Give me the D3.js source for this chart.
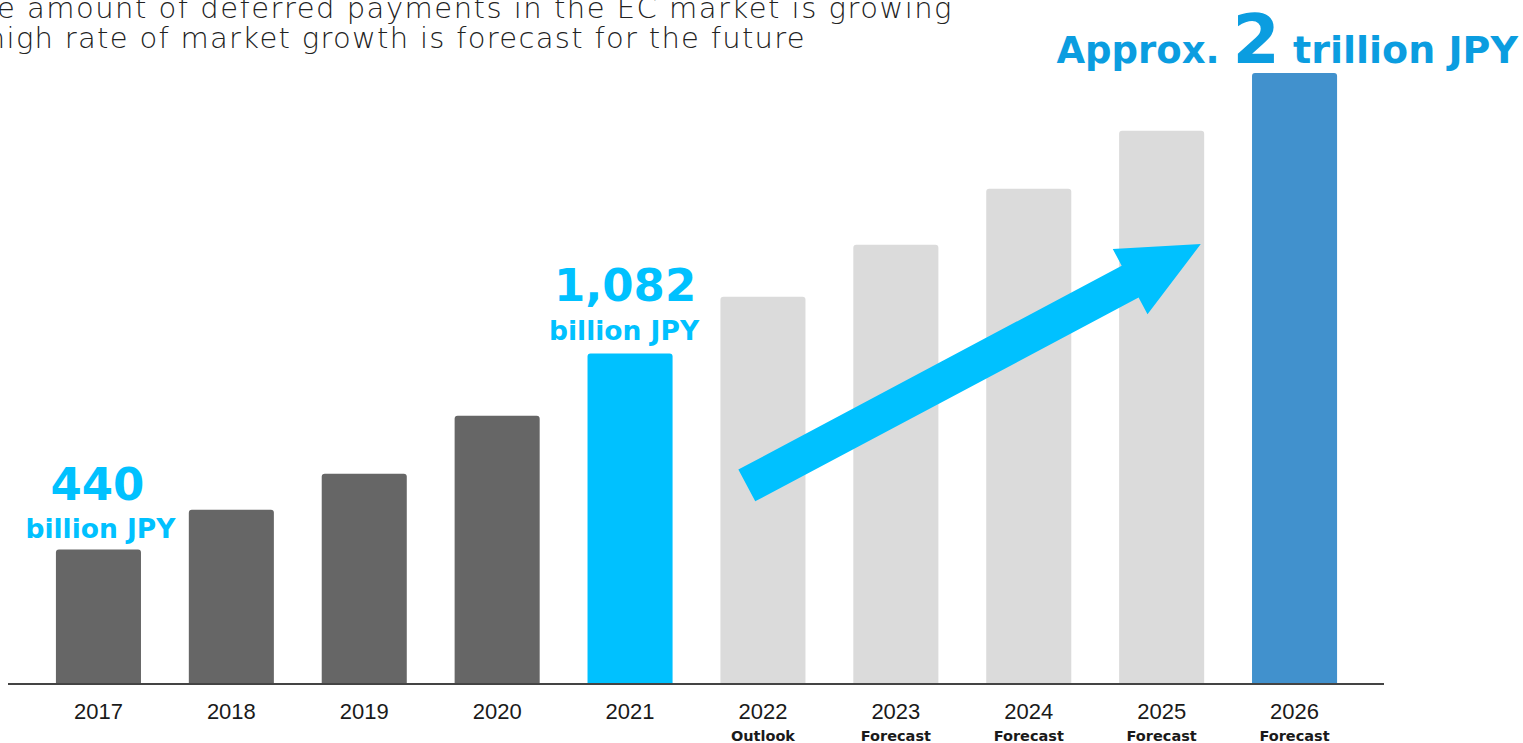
<!DOCTYPE html>
<html>
<head>
<meta charset="utf-8">
<script src="https://cdn.jsdelivr.net/npm/d3@7"></script>
<style>
  html, body { margin: 0; padding: 0; background: #ffffff; overflow: hidden; }
  svg { display: block; }
</style>
</head>
<body>
<svg id="chart" width="1523" height="743"></svg>
<script>
// Deferred payment volume in the EC market (billion JPY)
const years = ["2017", "2018", "2019", "2020", "2021", "2022", "2023", "2024", "2025", "2026"];
const values = [440, 570, 688, 878, 1082, 1268, 1438, 1621, 1811, 2000];
const subLabels = ["", "", "", "", "", "Outlook", "Forecast", "Forecast", "Forecast", "Forecast"];
const barColors = ["#666666", "#666666", "#666666", "#666666", "#00c1ff",
                   "#dbdbdb", "#dbdbdb", "#dbdbdb", "#dbdbdb", "#4191cd"];
const titleLines = [
  "The amount of deferred payments in the EC market is growing",
  "A high rate of market growth is forecast for the future"
];

const svg = d3.select("#chart");
const baseY = 684;

const x = d3.scaleBand()
  .domain(years)
  .range([32, 1361])
  .paddingInner(0.36)
  .paddingOuter(0.18);

const y = d3.scaleLinear()
  .domain([0, 2000])
  .range([baseY, 73]);

// bars with slightly rounded top corners
function barPath(x0, y0, w, h, r) {
  r = Math.min(r, h);
  return `M${x0},${y0 + h}V${y0 + r}Q${x0},${y0} ${x0 + r},${y0}` +
         `H${x0 + w - r}Q${x0 + w},${y0} ${x0 + w},${y0 + r}V${y0 + h}Z`;
}

svg.append("g")
  .selectAll("path")
  .data(years)
  .join("path")
  .attr("d", (d, i) => barPath(x(d), y(values[i]), x.bandwidth(), baseY - y(values[i]), 3))
  .attr("fill", (d, i) => barColors[i]);

// baseline
svg.append("line")
  .attr("x1", 8).attr("x2", 1384)
  .attr("y1", baseY).attr("y2", baseY)
  .attr("stroke", "#444").attr("stroke-width", 2);

// year labels via the band axis
const axis = svg.append("g")
  .attr("transform", `translate(0,${baseY})`)
  .call(d3.axisBottom(x).tickSize(0).tickPadding(19));
axis.select(".domain").remove();
axis.selectAll("text")
  .attr("font-family", "'Liberation Sans', Arial, sans-serif")
  .attr("font-size", 22)
  .attr("fill", "#1a1a1a")
  .attr("dy", "0.71em");

// Outlook / Forecast sub labels
svg.append("g")
  .selectAll("text")
  .data(years)
  .join("text")
  .attr("x", d => x(d) + x.bandwidth() / 2)
  .attr("y", 741)
  .attr("text-anchor", "middle")
  .attr("font-family", "'DejaVu Sans', sans-serif")
  .attr("font-weight", 700)
  .attr("font-size", 14.5)
  .attr("fill", "#1a1a1a")
  .text((d, i) => subLabels[i]);

// rising arrow across the forecast years
(function drawArrow() {
  const tail = [x("2022") + x.bandwidth() * 0.31, y(650)];
  const tip = [x("2025") + x.bandwidth() * 0.96, y(1440)];
  const dx = tip[0] - tail[0], dy = tip[1] - tail[1];
  const len = Math.hypot(dx, dy);
  const ux = dx / len, uy = dy / len;      // along the arrow
  const nx = -uy, ny = ux;                 // perpendicular
  const shaft = 36 / 2, head = 74 / 2, headLen = 80;
  const hb = [tip[0] - ux * headLen, tip[1] - uy * headLen];
  const pts = [
    [tail[0] + nx * shaft, tail[1] + ny * shaft],
    [hb[0] + nx * shaft, hb[1] + ny * shaft],
    [hb[0] + nx * head, hb[1] + ny * head],
    tip,
    [hb[0] - nx * head, hb[1] - ny * head],
    [hb[0] - nx * shaft, hb[1] - ny * shaft],
    [tail[0] - nx * shaft, tail[1] - ny * shaft]
  ];
  svg.append("path")
    .attr("d", d3.line()(pts) + "Z")
    .attr("fill", "#00c1ff");
})();

// value call-outs
const boldFont = "'DejaVu Sans', sans-serif";
function callout(year, big, small, bigY, smallY, dxBig, dxSmall) {
  const cx = x(year) + x.bandwidth() / 2;
  svg.append("text")
    .attr("x", cx + dxBig).attr("y", bigY)
    .attr("text-anchor", "middle")
    .attr("font-family", boldFont).attr("font-weight", 700)
    .attr("font-size", 45).attr("fill", "#00c1ff")
    .text(big);
  svg.append("text")
    .attr("x", cx + dxSmall).attr("y", smallY)
    .attr("text-anchor", "middle")
    .attr("font-family", boldFont).attr("font-weight", 700)
    .attr("font-size", 26.5).attr("fill", "#00c1ff")
    .text(small);
}
callout("2017", d3.format(",")(values[0]), "billion JPY", 500, 538, -1, 2);
callout("2021", d3.format(",")(values[4]), "billion JPY", 301, 340, -5, -6);

// 2026 headline
const head = svg.append("text")
  .attr("x", 1518).attr("y", 63)
  .attr("text-anchor", "end")
  .attr("font-family", boldFont).attr("font-weight", 700)
  .attr("fill", "#0b9de0");
head.append("tspan").attr("font-size", 37).text("Approx. ");
head.append("tspan").attr("font-size", 68).text(values[9] / 1000);
head.append("tspan").attr("font-size", 38).text(" trillion JPY");

// heading text, running off the left edge
svg.append("g")
  .selectAll("text")
  .data(titleLines)
  .join("text")
  .attr("x", (d, i) => i === 0 ? 953 : 806)
  .attr("y", (d, i) => 18 + i * 30)
  .attr("text-anchor", "end")
  .attr("font-family", "'DejaVu Sans', sans-serif")
  .attr("font-weight", 300)
  .attr("font-size", 29)
  .attr("letter-spacing", (d, i) => i === 0 ? 1.5 : 1.3)
  .attr("fill", "#222")
  .text(d => d);
</script>
</body>
</html>
